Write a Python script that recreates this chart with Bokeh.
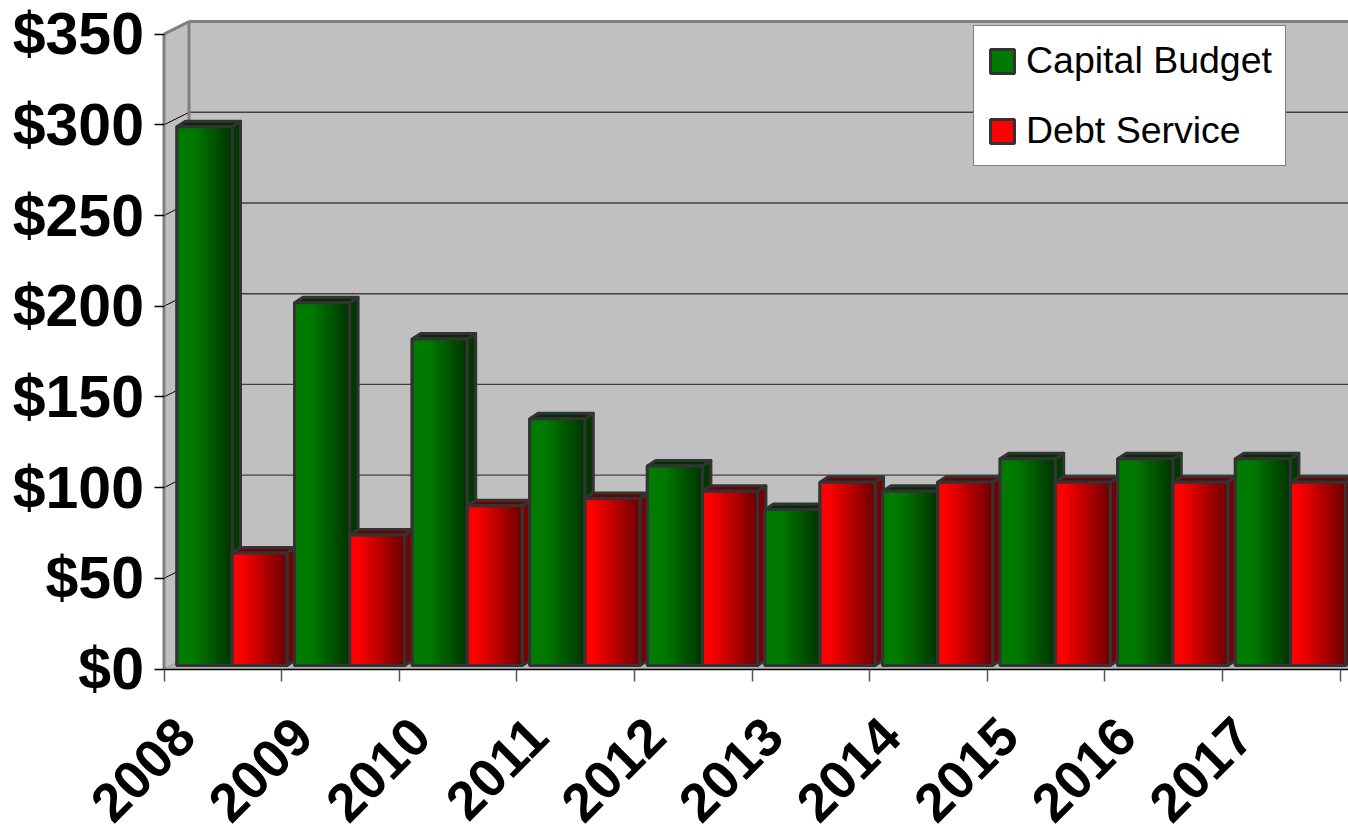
import math
from bokeh.plotting import figure
from bokeh.models import (Range1d, FixedTicker, CustomJSTickFormatter, Legend,
                          LegendItem, ColumnDataSource)
from bokeh.embed import file_html
from bokeh.resources import INLINE

# ---------------- data ----------------
years = ["2008", "2009", "2010", "2011", "2012", "2013", "2014", "2015", "2016", "2017"]
capital_budget = [297, 200, 180, 136, 110, 86, 96, 114, 114, 114]
debt_service = [62, 72, 88, 92, 96, 101, 101, 101, 101, 101]
series_names = ["Capital Budget", "Debt Service"]
y_ticks = [0, 50, 100, 150, 200, 250, 300, 350]
y_tick_labels = ["$0", "$50", "$100", "$150", "$200", "$250", "$300", "$350"]

# ---------------- style / geometry ----------------
FONT = "Liberation Sans"
W_PX = 117.6          # px per category
K_PX = 1.814          # px per dollar
DX = 25 / W_PX        # wall depth (x)
DY = 12.5 / K_PX      # wall depth (y)
BX = 8.5 / W_PX       # bar depth (x)
BY = 5.5 / K_PX       # bar depth (y)
BASE = 3.5 / K_PX     # bar base lift (bars sit inside the box)
GAP0 = 0.11
BAR_W = 0.468
LABEL_OFF = 0.182
YMAX = y_ticks[-1]

CW, CH = 1348, 834
ZERO_X, ZERO_Y = 163.5, 668.5

x_start = -ZERO_X / W_PX
x_end = x_start + CW / W_PX
y_start = -(CH - ZERO_Y) / K_PX
y_end = ZERO_Y / K_PX

p = figure(width=CW, height=CH, output_backend="svg", toolbar_location=None,
           x_range=Range1d(x_start, x_end), y_range=Range1d(y_start, y_end),
           min_border=0, min_border_left=0, min_border_right=0, min_border_top=0,
           min_border_bottom=0)
p.background_fill_color = "white"
p.border_fill_color = "white"
p.outline_line_color = None
p.xgrid.grid_line_color = None
p.ygrid.grid_line_color = None

xe = x_end + 1.0
WALL = "#c0c0c0"

# floor, left wall, back wall
p.patch([0, xe, xe + DX, DX], [0, 0, DY, DY], fill_color="#b4b4b4", line_color=None)
p.patch([0, 0, DX, DX], [0, YMAX, YMAX + DY, DY], fill_color=WALL, line_color=None)
p.patch([DX, xe, xe, DX], [DY, DY, YMAX + DY, YMAX + DY], fill_color=WALL, line_color=None)

grid_vals = y_ticks[1:-1]
p.segment(x0=[DX] * len(grid_vals), y0=[v + DY for v in grid_vals],
          x1=[xe] * len(grid_vals), y1=[v + DY for v in grid_vals],
          line_color="#404040", line_width=1.4)
p.segment(x0=[0] * len(grid_vals), y0=grid_vals,
          x1=[DX] * len(grid_vals), y1=[v + DY for v in grid_vals],
          line_color="black", line_width=1.0)

p.multi_line(xs=[[0, 0], [DX, DX], [0, DX], [DX, xe]],
             ys=[[0, YMAX], [DY, YMAX + DY], [YMAX, YMAX + DY], [YMAX + DY, YMAX + DY]],
             line_color="#808080", line_width=3)
p.multi_line(xs=[[0, DX], [DX, xe]], ys=[[0, DY], [DY, DY]],
             line_color="#909090", line_width=1)

# ---------------- bars ----------------
bright = ["#007a00", "#ff0000"]
dark = ["#003400", "#6c0000"]
side_col = ["#003800", "#780000"]
top_col = ["#003000", "#700000"]
grad_start = [0.30, 0.15]
OUT = "#333333"
OUT_W = 3


def hx(c):
    return tuple(int(c[k:k + 2], 16) for k in (1, 3, 5))


def lerp(c1, c2, t):
    a, b = hx(c1), hx(c2)
    return "#%02x%02x%02x" % tuple(int(round(a[k] + (b[k] - a[k]) * t)) for k in range(3))


values = [capital_budget, debt_service]
side_xs, side_ys, side_c = [], [], []
top_xs, top_ys, top_c = [], [], []
fronts = []
for s, vals in enumerate(values):
    fr = dict(left=[], right=[], bottom=[], top=[])
    for i, v in enumerate(vals):
        xa = i + GAP0 + s * BAR_W
        xb = xa + BAR_W
        ya = BASE
        yb = BASE + v
        side_xs.append([xb, xb + BX, xb + BX, xb])
        side_ys.append([ya, ya + BY, yb + BY, yb])
        side_c.append(side_col[s])
        top_xs.append([xa, xb, xb + BX, xa + BX])
        top_ys.append([yb, yb, yb + BY, yb + BY])
        top_c.append(top_col[s])
        fr["left"].append(xa)
        fr["right"].append(xb)
        fr["bottom"].append(ya)
        fr["top"].append(yb)
    fronts.append(fr)

p.patches(xs=side_xs, ys=side_ys, fill_color=side_c, line_color=OUT, line_width=OUT_W,
          line_join="round")
p.patches(xs=top_xs, ys=top_ys, fill_color=top_c, line_color=OUT, line_width=OUT_W,
          line_join="round")

legend_items = []
NSTRIP = 18
for s in range(2):
    fr = fronts[s]
    r = p.quad(source=ColumnDataSource(fr), left="left", right="right", bottom="bottom",
               top="top", fill_color=bright[s], line_color=OUT, line_width=OUT_W)
    legend_items.append(LegendItem(label=series_names[s], renderers=[r]))
    st = dict(left=[], right=[], bottom=[], top=[], color=[])
    for a, b, ya, yb in zip(fr["left"], fr["right"], fr["bottom"], fr["top"]):
        w = (b - a) / NSTRIP
        for k in range(NSTRIP):
            t = (k + 0.5) / NSTRIP
            u = max(0.0, (t - grad_start[s]) / (1 - grad_start[s]))
            st["left"].append(a + k * w)
            st["right"].append(min(b, a + (k + 1.6) * w))
            st["bottom"].append(ya)
            st["top"].append(yb)
            st["color"].append(lerp(bright[s], dark[s], u))
    p.quad(source=ColumnDataSource(st), left="left", right="right", bottom="bottom",
           top="top", fill_color="color", line_color=None)

for s in range(2):
    p.quad(source=ColumnDataSource(fronts[s]), left="left", right="right",
           bottom="bottom", top="top", fill_color=None, line_color=OUT, line_width=OUT_W)

# ---------------- axes ----------------
xa_ = p.xaxis[0]
xa_.fixed_location = 0
xa_.bounds = (0, xe)
xa_.ticker = FixedTicker(ticks=[i + LABEL_OFF for i in range(len(years))],
                         minor_ticks=list(range(len(years) + 1)))
xa_.formatter = CustomJSTickFormatter(args=dict(labels=years, off=LABEL_OFF),
                                      code="return labels[Math.round(tick - off)];")
xa_.major_tick_out = 0
xa_.major_tick_in = 0
xa_.minor_tick_out = 12
xa_.minor_tick_in = 0
xa_.minor_tick_line_color = "#555555"
xa_.minor_tick_line_width = 1.5
xa_.axis_line_color = "black"
xa_.axis_line_width = 1.5
xa_.major_label_orientation = math.pi / 4
xa_.major_label_standoff = 46
xa_.major_label_text_font = FONT
xa_.major_label_text_font_size = "54px"
xa_.major_label_text_font_style = "bold"
xa_.major_label_text_color = "black"

ya_ = p.yaxis[0]
ya_.fixed_location = 0
ya_.bounds = (0, YMAX)
ya_.ticker = FixedTicker(ticks=y_ticks)
ya_.major_label_overrides = dict(zip(y_ticks, y_tick_labels))
ya_.axis_line_color = None
ya_.major_tick_out = 10
ya_.major_tick_in = 0
ya_.major_tick_line_color = "black"
ya_.major_tick_line_width = 1.5
ya_.minor_tick_line_color = None
ya_.major_label_standoff = 10
ya_.major_label_text_font = FONT
ya_.major_label_text_font_size = "59px"
ya_.major_label_text_font_style = "bold"
ya_.major_label_text_color = "black"

# ---------------- legend ----------------
legend = Legend(items=legend_items, location=(973, 668),
                label_text_font=FONT, label_text_font_size="37.5px", label_text_color="black",
                glyph_width=30, glyph_height=30, label_standoff=9, label_height=42,
                padding=13, spacing=27, margin=0,
                border_line_color="black", border_line_width=1,
                background_fill_color="white", background_fill_alpha=1.0)
p.add_layout(legend)

open("out.html", "w").write(file_html(p, INLINE))
